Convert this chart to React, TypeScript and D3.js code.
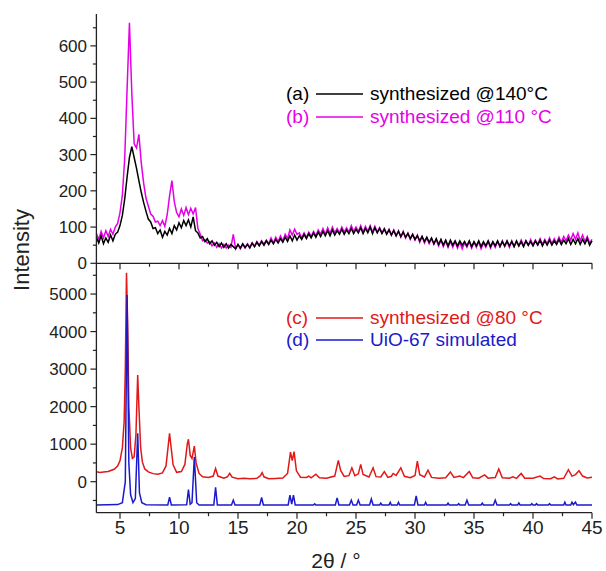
import * as d3 from 'd3';

// x axis (2 theta)
const xTicks = [5, 10, 15, 20, 25, 30, 35, 40, 45];
const xMinor = [7.5, 12.5, 17.5, 22.5, 27.5, 32.5, 37.5, 42.5];
const topTicks = [0, 100, 200, 300, 400, 500, 600];
const topMinor = [50, 150, 250, 350, 450, 550, 650];
const bottomTicks = [0, 1000, 2000, 3000, 4000, 5000];
const bottomMinor = [-500, 500, 1500, 2500, 3500, 4500, 5500];

// top panel scans, read every 0.2 deg from 3 to 45
const scanStart = 3;
const scanStep = 0.2;
const sample140 = [
  72, 56, 76, 54, 70, 58, 78, 62, 80, 86,
  104, 132, 178, 238, 292, 322, 292, 262, 228, 196,
  168, 144, 122, 114, 96, 98, 82, 92, 72, 88,
  78, 96, 82, 104, 92, 112, 98, 118, 104, 120,
  100, 128, 90, 84, 70, 74, 60, 68, 54, 62,
  50, 58, 46, 56, 44, 54, 42, 52, 46, 40,
  52, 42, 54, 44, 52, 42, 56, 46, 58, 48,
  60, 50, 62, 52, 64, 54, 66, 56, 68, 58,
  72, 60, 76, 62, 78, 64, 76, 66, 80, 68,
  82, 70, 84, 72, 86, 74, 88, 76, 90, 76,
  92, 78, 90, 80, 94, 80, 92, 82, 96, 82,
  94, 84, 98, 82, 96, 84, 100, 82, 98, 84,
  96, 82, 94, 80, 92, 78, 90, 76, 88, 74,
  86, 72, 82, 68, 80, 66, 76, 62, 74, 60,
  72, 58, 70, 54, 68, 52, 66, 50, 64, 48,
  64, 50, 62, 48, 62, 50, 60, 48, 62, 46,
  60, 48, 62, 46, 60, 48, 62, 46, 60, 48,
  62, 46, 60, 48, 62, 48, 60, 46, 62, 48,
  60, 46, 62, 50, 60, 48, 62, 50, 64, 48,
  62, 50, 64, 50, 62, 52, 66, 52, 64, 54,
  68, 52, 66, 54, 68, 52, 66, 54, 68, 50,
  62,
];
const sample110 = [
  82, 66, 88, 70, 90, 74, 94, 80, 100, 110,
  140, 188, 290, 480, 664, 470, 330, 318, 356, 278,
  222, 180, 158, 136, 130, 114, 116, 104, 118, 102,
  134, 186, 228, 170, 140, 128, 150, 132, 154, 134,
  152, 136, 154, 96, 80, 62, 64, 56, 60, 48,
  56, 44, 54, 42, 52, 42, 50, 44, 80, 40,
  52, 40, 52, 42, 54, 44, 56, 46, 60, 50,
  62, 52, 64, 54, 70, 56, 72, 60, 76, 62,
  80, 68, 92, 78, 94, 80, 84, 70, 84, 72,
  86, 74, 88, 76, 92, 80, 96, 80, 98, 82,
  100, 84, 96, 84, 100, 86, 98, 86, 104, 88,
  100, 88, 104, 86, 102, 88, 104, 86, 102, 86,
  98, 84, 96, 82, 94, 78, 92, 76, 90, 72,
  88, 70, 84, 66, 80, 64, 78, 58, 74, 56,
  70, 54, 68, 52, 66, 48, 64, 46, 62, 44,
  60, 44, 60, 42, 58, 40, 56, 44, 60, 42,
  58, 44, 60, 40, 56, 44, 60, 42, 58, 44,
  60, 46, 62, 46, 60, 44, 62, 46, 60, 48,
  64, 48, 62, 50, 66, 50, 64, 52, 68, 52,
  66, 54, 70, 54, 68, 56, 72, 58, 74, 62,
  78, 64, 82, 66, 84, 62, 78, 60, 74, 56,
  66,
];

// bottom panel, [2theta, intensity]
const sample80: [number, number][] = [
  [3.0, 262], [3.3, 248], [3.6, 258], [4.0, 272], [4.5, 330], [4.8, 420], [5.0, 560], [5.2, 900],
  [5.35, 1600], [5.45, 3000], [5.55, 5570], [5.65, 4200], [5.75, 2000], [5.9, 900], [6.05, 620],
  [6.2, 660], [6.35, 1250], [6.5, 2840], [6.6, 2000], [6.75, 900], [6.9, 520], [7.1, 340],
  [7.4, 260], [7.8, 215], [8.2, 200], [8.6, 235], [8.9, 420], [9.1, 1000], [9.2, 1290], [9.3, 1000],
  [9.5, 450], [9.8, 250], [10.2, 270], [10.5, 460], [10.7, 1000], [10.8, 1130], [10.95, 700],
  [11.1, 620], [11.3, 950], [11.45, 500], [11.7, 220], [12.0, 130], [12.5, 110], [12.9, 150],
  [13.1, 350], [13.3, 150], [13.8, 95], [14.1, 130], [14.3, 220], [14.5, 120], [15.0, 80],
  [15.5, 92], [16.0, 78], [16.6, 90], [16.9, 160], [17.05, 240], [17.2, 130], [17.6, 80],
  [18.2, 88], [18.8, 100], [19.2, 220], [19.45, 790], [19.6, 560], [19.75, 800], [19.95, 290],
  [20.3, 120], [20.8, 115], [21.0, 150], [21.2, 105], [21.6, 200], [21.9, 105], [22.5, 95],
  [23.2, 150], [23.5, 570], [23.7, 300], [24.0, 140], [24.4, 160], [24.65, 370], [24.9, 160],
  [25.2, 210], [25.4, 460], [25.6, 190], [26.1, 125], [26.45, 370], [26.7, 135], [27.1, 125],
  [27.4, 270], [27.7, 115], [28.0, 145], [28.15, 220], [28.4, 165], [28.8, 370], [29.1, 145],
  [29.6, 105], [30.0, 165], [30.2, 550], [30.4, 185], [30.8, 125], [31.1, 310], [31.4, 115],
  [32.0, 95], [32.6, 105], [33.0, 260], [33.3, 115], [33.8, 150], [34.1, 110], [34.6, 270],
  [34.9, 105], [35.4, 95], [35.9, 180], [36.2, 95], [36.8, 110], [37.1, 340], [37.4, 105],
  [38.0, 92], [38.3, 130], [38.6, 90], [39.0, 220], [39.3, 92], [40.0, 90], [40.6, 150],
  [40.9, 82], [41.5, 80], [41.8, 130], [42.1, 72], [42.6, 90], [43.0, 320], [43.3, 150],
  [43.6, 190], [43.9, 290], [44.2, 150], [44.6, 100], [45.0, 118],
];

const simulated: [number, number][] = [
  [3.0, -622], [4.8, -610], [5.2, -560], [5.45, 0], [5.6, 4975], [5.75, 500], [5.9, -350],
  [6.1, -560], [6.3, -450], [6.5, 1290], [6.65, -300], [6.85, -560], [7.2, -612], [9.05, -620],
  [9.2, -410], [9.35, -620], [10.65, -615], [10.8, -210], [10.95, -600], [11.1, -560],
  [11.3, 660], [11.5, -560], [11.7, -620], [12.95, -620], [13.1, -150], [13.25, -620],
  [14.45, -620], [14.6, -490], [14.75, -620], [16.85, -620], [17.0, -420], [17.15, -620],
  [19.25, -620], [19.4, -355], [19.55, -600], [19.7, -355], [19.85, -620], [21.4, -620],
  [21.5, -590], [21.6, -620], [23.25, -620], [23.4, -430], [23.55, -620], [24.45, -620],
  [24.6, -490], [24.75, -620], [25.05, -620], [25.2, -490], [25.35, -620], [26.15, -620],
  [26.3, -460], [26.45, -620], [27.0, -620], [27.1, -570], [27.2, -620], [27.8, -620],
  [27.9, -550], [28.0, -620], [28.5, -620], [28.6, -550], [28.7, -620], [29.95, -620],
  [30.1, -380], [30.25, -620], [30.8, -620], [30.9, -550], [31.0, -620], [32.7, -620],
  [32.8, -570], [32.9, -620], [33.6, -620], [33.7, -585], [33.8, -620], [34.25, -620],
  [34.4, -490], [34.55, -620], [35.6, -620], [35.7, -570], [35.8, -620], [36.65, -620],
  [36.8, -490], [36.95, -620], [38.0, -620], [38.1, -585], [38.2, -620], [38.7, -620],
  [38.8, -565], [38.9, -620], [39.8, -620], [39.9, -585], [40.0, -620], [40.2, -620],
  [40.3, -585], [40.4, -620], [41.3, -620], [41.4, -585], [41.5, -620], [42.6, -620],
  [42.7, -545], [42.8, -620], [43.2, -620], [43.3, -545], [43.42, -610], [43.6, -545],
  [43.72, -620], [45.0, -622],
];

const W = 606;
const H = 571;
const left = 96.4;
const right = 592;
const topY0 = 14;
const midY = 263.3;
const bottomY1 = 512.7;

const font = 'Arial, "Liberation Sans", Helvetica, sans-serif';
const axisColor = '#222';
const magenta = '#e600e6';
const red = '#e21818';
const blue = '#1a1acc';

export default function App() {
  const x = d3.scaleLinear().domain([3, 45]).range([left, right]);
  const yTop = d3.scaleLinear().domain([0, 688]).range([midY, topY0]);
  const yBot = d3.scaleLinear().domain([-826, 5819]).range([bottomY1, midY]);

  const scanLine = d3.line<number>()
    .x((_, i) => x(scanStart + i * scanStep))
    .y(d => yTop(d));
  const patternLine = d3.line<[number, number]>()
    .x(d => x(d[0]))
    .y(d => yBot(d[1]));

  const legend = (
    yBase: number,
    tag: string,
    label: string,
    color: string
  ) => (
    <g key={tag}>
      <text x={286} y={yBase} fill={color} fontSize={19} fontFamily={font}>{tag}</text>
      <line x1={316} x2={363} y1={yBase - 6} y2={yBase - 6} stroke={color} strokeWidth={1.6} />
      <text x={370} y={yBase} fill={color} fontSize={19} fontFamily={font}>{label}</text>
    </g>
  );

  return (
    <svg width={W} height={H} style={{ position: 'absolute', left: 0, top: 0, background: '#fff' }}>
      {/* data */}
      <path d={scanLine(sample110) ?? ''} fill="none" stroke={magenta} strokeWidth={1.5} />
      <path d={scanLine(sample140) ?? ''} fill="none" stroke="#000" strokeWidth={1.5} />
      <path d={patternLine(sample80) ?? ''} fill="none" stroke={red} strokeWidth={1.5} />
      <path d={patternLine(simulated) ?? ''} fill="none" stroke={blue} strokeWidth={1.5} />

      {/* left axis */}
      <line x1={left} x2={left} y1={topY0} y2={bottomY1} stroke={axisColor} strokeWidth={1.3} />
      {/* bottom axes of both panels */}
      {[midY, bottomY1].map(yy => (
        <g key={yy}>
          <line x1={left} x2={right} y1={yy} y2={yy} stroke={axisColor} strokeWidth={1.3} />
          {xTicks.map(t => (
            <line key={t} x1={x(t)} x2={x(t)} y1={yy} y2={yy + 6} stroke={axisColor} strokeWidth={1.2} />
          ))}
          {xMinor.map(t => (
            <line key={t} x1={x(t)} x2={x(t)} y1={yy} y2={yy + 3.5} stroke={axisColor} strokeWidth={1.2} />
          ))}
        </g>
      ))}
      {xTicks.map(t => (
        <text key={t} x={x(t)} y={533.5} textAnchor="middle" fontSize={19} fontFamily={font} fill="#222">{t}</text>
      ))}

      {/* top panel y ticks */}
      {topTicks.map(t => (
        <g key={t}>
          <line x1={left - 6} x2={left} y1={yTop(t)} y2={yTop(t)} stroke={axisColor} strokeWidth={1.2} />
          <text x={87} y={yTop(t)} dy="0.36em" textAnchor="end" fontSize={17} fontFamily={font} fill="#222">{t}</text>
        </g>
      ))}
      {topMinor.map(t => (
        <line key={t} x1={left - 3.5} x2={left} y1={yTop(t)} y2={yTop(t)} stroke={axisColor} strokeWidth={1.2} />
      ))}

      {/* bottom panel y ticks */}
      {bottomTicks.map(t => (
        <g key={t}>
          <line x1={left - 6} x2={left} y1={yBot(t)} y2={yBot(t)} stroke={axisColor} strokeWidth={1.2} />
          <text x={87} y={yBot(t)} dy="0.36em" textAnchor="end" fontSize={17} fontFamily={font} fill="#222">{t}</text>
        </g>
      ))}
      {bottomMinor.map(t => (
        <line key={t} x1={left - 3.5} x2={left} y1={yBot(t)} y2={yBot(t)} stroke={axisColor} strokeWidth={1.2} />
      ))}

      {/* axis titles */}
      <text transform="translate(29,250) rotate(-90)" textAnchor="middle" fontSize={22} fontFamily={font} fill="#222">Intensity</text>
      <text x={336} y={568} textAnchor="middle" fontSize={21} fontFamily={font} fill="#222">2θ / °</text>

      {/* legends */}
      {legend(100, '(a)', 'synthesized @140°C', '#000')}
      {legend(123, '(b)', 'synthesized @110 °C', magenta)}
      {legend(324, '(c)', 'synthesized @80 °C', red)}
      {legend(346, '(d)', 'UiO-67 simulated', blue)}
    </svg>
  );
}
